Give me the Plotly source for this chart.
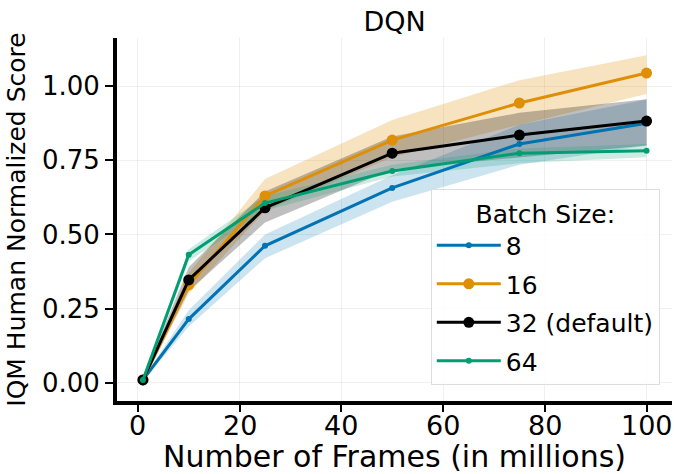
import plotly.graph_objects as go

frames = [1, 10, 25, 50, 75, 100]
labels = ["8", "16", "32 (default)", "64"]
colors = ["#0173B2", "#DE8F05", "#000000", "#029E73"]
fills = ["rgba(1,115,178,0.2)", "rgba(222,143,5,0.25)", "rgba(0,0,0,0.25)", "rgba(2,158,115,0.2)"]
marker_sizes = [6, 11, 11, 6]
x_ticks = [0, 20, 40, 60, 80, 100]

iqm_8 = [0.01, 0.215, 0.462, 0.657, 0.805, 0.875]
iqm_16 = [0.01, 0.33, 0.63, 0.818, 0.943, 1.044]
iqm_32 = [0.01, 0.347, 0.59, 0.774, 0.835, 0.882]
iqm_64 = [0.01, 0.432, 0.606, 0.714, 0.774, 0.782]

lo_8 = [0.005, 0.19, 0.42, 0.61, 0.735, 0.80]
hi_8 = [0.015, 0.245, 0.50, 0.70, 0.87, 0.955]
lo_16 = [0.005, 0.30, 0.58, 0.76, 0.87, 0.973]
hi_16 = [0.015, 0.37, 0.687, 0.886, 1.02, 1.104]
lo_32 = [0.005, 0.31, 0.54, 0.72, 0.76, 0.80]
hi_32 = [0.015, 0.39, 0.645, 0.83, 0.91, 0.956]
lo_64 = [0.005, 0.41, 0.58, 0.695, 0.74, 0.76]
hi_64 = [0.015, 0.45, 0.63, 0.735, 0.79, 0.805]

means = [iqm_8, iqm_16, iqm_32, iqm_64]
lows = [lo_8, lo_16, lo_32, lo_64]
highs = [hi_8, hi_16, hi_32, hi_64]

fig = go.Figure()
# shaded confidence bands first, then the mean curves on top
for fc, lo, hi in zip(fills, lows, highs):
    fig.add_trace(go.Scatter(
        x=frames + frames[::-1], y=hi + lo[::-1],
        fill="toself", fillcolor=fc, line=dict(width=0),
        hoverinfo="skip", showlegend=False, mode="lines",
    ))
for i, (lab, col, ms, m) in enumerate(zip(labels, colors, marker_sizes, means)):
    fig.add_trace(go.Scatter(
        x=frames, y=m, name=lab, mode="lines+markers", legendgroup=f"g{i}",
        line=dict(color=col, width=3), marker=dict(color=col, size=ms),
    ))

# x tick labels placed close under the axis, plus the x-axis title
annotations = [dict(
    text=str(t), x=t, xref="x", y=-0.0675, yref="paper",
    xanchor="center", yanchor="middle", showarrow=False, font=dict(size=27),
) for t in x_ticks]
annotations.append(dict(
    text="Number of Frames (in millions)", xref="paper", yref="paper",
    x=0.5, y=-0.154, xanchor="center", yanchor="middle",
    showarrow=False, font=dict(size=30),
))

font = "DejaVu Sans, sans-serif"
fig.update_layout(
    width=674, height=474,
    margin=dict(l=117, r=2, t=38, b=73),
    plot_bgcolor="white", paper_bgcolor="white",
    font=dict(family=font, size=26, color="black"),
    title=dict(text="DQN", x=0.5, xref="paper", xanchor="center", y=0.975, yanchor="top",
               font=dict(size=27)),
    xaxis=dict(
        range=[-4.1, 105], tickvals=x_ticks, showticklabels=False,
        showgrid=True, gridcolor="rgba(0,0,0,0.06)", gridwidth=1,
        showline=True, linecolor="black", linewidth=4,
        ticks="outside", ticklen=7, tickwidth=1.5, tickcolor="black",
        zeroline=False,
    ),
    yaxis=dict(
        range=[-0.061, 1.162], tickvals=[0, 0.25, 0.5, 0.75, 1.0], tickformat=".2f",
        showgrid=True, gridcolor="rgba(0,0,0,0.06)", gridwidth=1,
        showline=True, linecolor="black", linewidth=4,
        ticks="outside", ticklen=8, tickwidth=1.5, tickcolor="black",
        title=dict(text="IQM Human Normalized Score", font=dict(size=25), standoff=10),
        tickfont=dict(size=26), zeroline=False,
    ),
    legend=dict(
        title=dict(text="Batch Size:", font=dict(size=25), side="top center"),
        font=dict(size=25),
        x=0.978, xanchor="right", y=0.044, yanchor="bottom",
        bgcolor="rgba(255,255,255,0.85)", bordercolor="#dddddd", borderwidth=1,
        itemwidth=64, tracegroupgap=3,
    ),
    annotations=annotations,
)

fig.write_html("out.html")
